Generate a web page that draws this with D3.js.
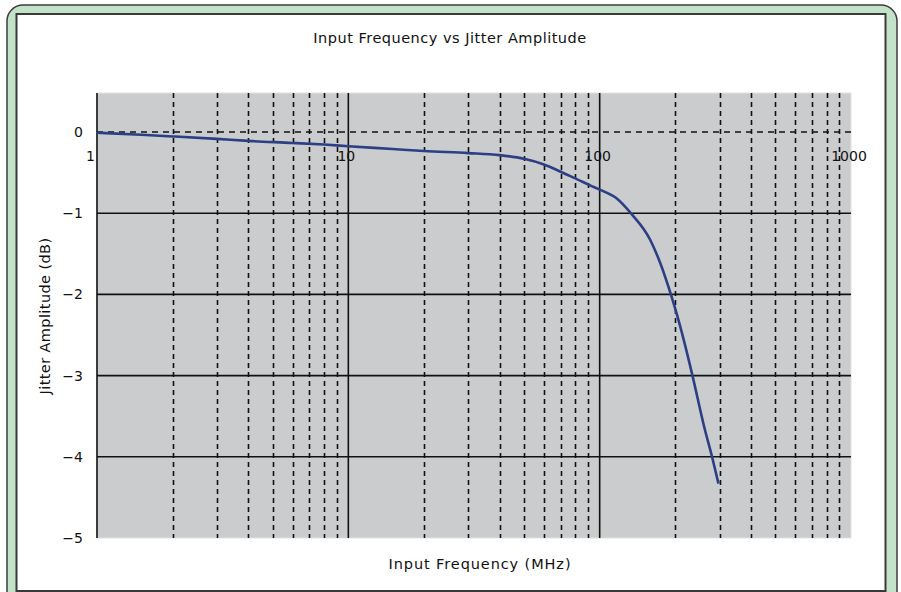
<!DOCTYPE html>
<html>
<head>
<meta charset="utf-8">
<script src="https://cdn.jsdelivr.net/npm/d3@7"></script>
<style>
  body { margin: 0; background: #fff; }
  text { font-family: "DejaVu Sans", sans-serif; fill: #111; }
</style>
</head>
<body>
<svg id="chart" width="901" height="592"></svg>
<script>
// Jitter tolerance curve
var freqMHz = [1, 1.5, 2, 3, 4, 6, 8, 10, 15, 20, 30, 40, 50, 60, 70, 81, 92, 100, 117, 133, 159, 174, 192, 203, 216, 234, 260, 280, 297];
var jitterDb = [-0.01, -0.035, -0.055, -0.085, -0.11, -0.135, -0.155, -0.175, -0.21, -0.235, -0.26, -0.285, -0.33, -0.40, -0.49, -0.58, -0.66, -0.71, -0.82, -1.0, -1.33, -1.61, -2.0, -2.25, -2.56, -3.0, -3.62, -4.0, -4.33];
var xTickValues = [1, 10, 100, 1000];
var xTickLabels = ['1', '10', '100', '1000'];
var yTickValues = [0, -1, -2, -3, -4, -5];
var yTickLabels = ['0', '\u22121', '\u22122', '\u22123', '\u22124', '\u22125'];
var titleText = 'Input Frequency vs Jitter Amplitude';
var xTitle = 'Input Frequency (MHz)';
var yTitle = 'Jitter Amplitude (dB)';

var svg = d3.select('#chart');
var plot = { left: 97, top: 93, right: 851, bottom: 538 };

// frame
svg.append('rect')
    .attr('x', 7).attr('y', 5).attr('width', 890).attr('height', 620)
    .attr('rx', 16).attr('ry', 16)
    .attr('fill', '#c3e2ca').attr('stroke', '#3c3c3c').attr('stroke-width', 1.5);
svg.append('rect')
    .attr('x', 16.5).attr('y', 14).attr('width', 869).attr('height', 577)
    .attr('fill', '#fff').attr('stroke', '#3a3a3a').attr('stroke-width', 2);

var x = d3.scaleLog().domain([1, 1000]).range([plot.left, plot.right]);
var y = d3.scaleLinear().domain([-5, 0.48]).range([plot.bottom, plot.top]);

svg.append('rect')
    .attr('x', plot.left).attr('y', plot.top)
    .attr('width', plot.right - plot.left).attr('height', plot.bottom - plot.top)
    .attr('fill', '#cbcccd').attr('stroke', '#e2e2e2').attr('stroke-width', 1);

// minor verticals (2..9 of each decade)
var minor = [];
[1, 10, 100].forEach(function(d) {
    for (var k = 2; k <= 9; k++) minor.push(d * k);
});
svg.append('g').selectAll('line').data(minor).enter().append('line')
    .attr('x1', function(d) { return Math.round(x(d)) + 0.5; })
    .attr('x2', function(d) { return Math.round(x(d)) + 0.5; })
    .attr('y1', plot.top).attr('y2', plot.bottom)
    .attr('stroke', '#111').attr('stroke-width', 1.6)
    .attr('stroke-dasharray', '5,4');

// major verticals
svg.append('g').selectAll('line').data([10, 100]).enter().append('line')
    .attr('x1', function(d) { return x(d); }).attr('x2', function(d) { return x(d); })
    .attr('y1', plot.top).attr('y2', plot.bottom)
    .attr('stroke', '#111').attr('stroke-width', 1.6);

// horizontals: solid, zero line dashed
svg.append('g').selectAll('line').data([-1, -2, -3, -4]).enter().append('line')
    .attr('x1', plot.left).attr('x2', plot.right)
    .attr('y1', function(d) { return y(d); }).attr('y2', function(d) { return y(d); })
    .attr('stroke', '#111').attr('stroke-width', 1.6);
svg.append('line')
    .attr('x1', plot.left).attr('x2', plot.right)
    .attr('y1', y(0)).attr('y2', y(0))
    .attr('stroke', '#111').attr('stroke-width', 1.6)
    .attr('stroke-dasharray', '6,5');

// left axis
svg.append('line')
    .attr('x1', plot.left).attr('x2', plot.left)
    .attr('y1', plot.top).attr('y2', plot.bottom)
    .attr('stroke', '#111').attr('stroke-width', 1.6);

// y tick labels
svg.append('g').selectAll('text').data(yTickValues).enter().append('text')
    .attr('x', 83).attr('y', function(d) { return y(d) + 5; })
    .attr('text-anchor', 'end').attr('font-size', 14)
    .text(function(d, i) { return yTickLabels[i]; });

// x tick labels sit under the zero line
svg.append('g').selectAll('text').data(xTickValues).enter().append('text')
    .attr('x', function(d) { return x(d) - 2; })
    .attr('y', y(0) + 29)
    .attr('text-anchor', function(d) { return d === 1 ? 'end' : 'middle'; })
    .attr('font-size', 14)
    .text(function(d, i) { return xTickLabels[i]; });

// curve
var line = d3.line()
    .x(function(d, i) { return x(freqMHz[i]); })
    .y(function(d) { return y(d); })
    .curve(d3.curveMonotoneX);
svg.append('path')
    .datum(jitterDb)
    .attr('d', line)
    .attr('fill', 'none').attr('stroke', '#2c3f85').attr('stroke-width', 2.6);

// titles
svg.append('text')
    .attr('x', 450).attr('y', 43).attr('text-anchor', 'middle')
    .attr('font-size', 14.5).attr('letter-spacing', 0.5)
    .text(titleText);
svg.append('text')
    .attr('x', 480).attr('y', 569).attr('text-anchor', 'middle')
    .attr('font-size', 14.5).attr('letter-spacing', 0.9)
    .text(xTitle);
svg.append('text')
    .attr('transform', 'translate(50,' + 316 + ') rotate(-90)')
    .attr('text-anchor', 'middle')
    .attr('font-size', 14.5).attr('letter-spacing', 0.4)
    .text(yTitle);
</script>
</body>
</html>
